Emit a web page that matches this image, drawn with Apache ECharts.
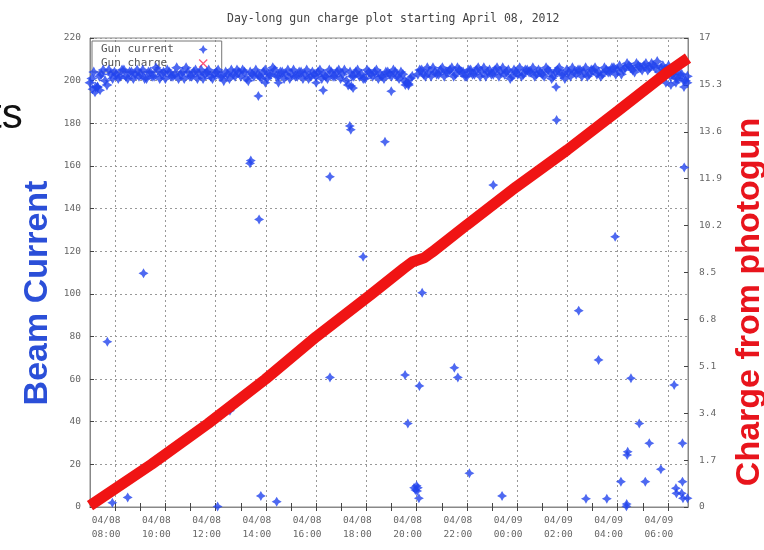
<!DOCTYPE html>
<html><head><meta charset="utf-8">
<script src="https://cdn.jsdelivr.net/npm/echarts@6/dist/echarts.min.js"></script>
<style>html,body{margin:0;padding:0;background:#fff}#c{width:764px;height:550px}</style>
</head><body><div id="c"></div>
<script>
const chartTitle = 'Day-long gun charge plot starting April 08, 2012';
const xTickHours = [8, 10, 12, 14, 16, 18, 20, 22, 24, 26, 28, 30];
const xTickLabels = ['04/08\n08:00', '04/08\n10:00', '04/08\n12:00', '04/08\n14:00', '04/08\n16:00', '04/08\n18:00',
  '04/08\n20:00', '04/08\n22:00', '04/09\n00:00', '04/09\n02:00', '04/09\n04:00', '04/09\n06:00'];
const xMinorHours = [8, 9, 10, 11, 12, 13, 14, 15, 16, 17, 18, 19, 20, 21, 22, 23, 24, 25, 26, 27, 28, 29, 30];

// Gun current, steady band, sampled every 0.15 h; four interleaved sample sets
const currentStep = 0.15;
const currentAStart = 7.0, currentA2Start = 7.075, currentBStart = 20.05, currentB2Start = 20.125;
const currentA = [199, 204, 197, 203, 200, 205, 201, 203, 202, 205,
  201, 204, 203, 202, 205, 201, 204, 202, 205, 203,
  201, 204, 202, 206, 203, 201, 204, 202, 205, 203,
  201, 204, 202, 203, 205, 202, 204, 201, 203, 205,
  202, 204, 200, 203, 205, 202, 204, 201, 203, 205,
  202, 204, 203, 201, 205, 202, 204, 203, 201, 204,
  202, 205, 203, 201, 204, 202, 205, 203, 200, 204,
  202, 205, 203, 201, 204, 202, 205, 203, 201, 204,
  202, 204, 201, 203, 199, 201];
const currentA2 = [201, 197, 202, 205, 198, 203, 204, 201, 205, 202,
  204, 201, 205, 203, 201, 204, 202, 206, 201, 204,
  205, 202, 203, 201, 204, 206, 202, 204, 201, 205,
  203, 205, 201, 204, 202, 200, 203, 205, 202, 204,
  205, 201, 204, 202, 203, 201, 205, 203, 206, 202,
  204, 201, 205, 203, 202, 204, 201, 205, 202, 203,
  204, 201, 202, 205, 202, 204, 201, 205, 198, 202,
  204, 202, 201, 205, 203, 204, 201, 202, 204, 203,
  205, 202, 204, 200, 198, 202];
const currentB = [203, 205, 202, 204, 206, 203, 205, 202, 204, 206,
  203, 205, 204, 202, 205, 203, 206, 204, 202, 205,
  203, 206, 204, 203, 205, 202, 204, 206, 203, 205,
  204, 202, 205, 203, 206, 204, 202, 205, 203, 201,
  204, 206, 203, 205, 204, 202, 205, 206, 204, 203,
  205, 204, 206, 205, 203, 206, 207, 205, 208, 206,
  207, 205, 208, 206, 204, 207, 205, 202, 204, 201,
  203, 200];
const currentB2 = [205, 203, 206, 202, 204, 203, 206, 204, 205, 202,
  206, 204, 202, 205, 203, 205, 202, 206, 204, 203,
  205, 202, 206, 204, 201, 205, 203, 202, 205, 204,
  206, 203, 204, 202, 205, 201, 204, 206, 203, 205,
  202, 204, 205, 202, 206, 203, 205, 203, 202, 206,
  204, 206, 203, 207, 205, 208, 206, 204, 207, 205,
  208, 206, 207, 209, 206, 205, 207, 203, 201, 203,
  200, 202];
// Gun current, dips and outliers (hour, value)
const currentExtraHours = [7.1, 7.2, 7.4, 7.3, 13.98, 14.5, 16.0, 16.28, 17.47, 17.4, 18.99, 19.55, 19.68, 25.55, 29.92, 30.12, 30.32, 30.64, 30.78,
  13.70, 17.34, 17.38, 18.74, 13.37, 13.40, 16.55, 13.73, 17.87, 9.13, 7.69, 12.57, 16.55, 8.5, 7.89, 12.08, 13.8, 14.43,
  20.22, 26.45, 27.24, 19.54, 20.11, 21.5, 21.64, 28.53, 30.25, 19.65, 28.86, 29.26, 30.58, 28.4, 28.38, 22.1, 29.72, 28.13, 29.1,
  19.9, 19.95, 20.0, 20.02, 20.05, 20.09, 23.4, 26.74, 27.57, 28.36, 28.35, 30.32, 30.58, 30.55, 30.6, 30.78, 30.34,
  25.57, 23.05, 27.9, 30.65];
const currentExtraValues = [196, 194.5, 195.5, 197, 199, 199, 199, 195.5, 196.5, 197.5, 195, 198, 198.5, 197, 199, 198, 199, 197, 199,
  192.8, 178.7, 177, 171.3, 161.2, 162.5, 154.9, 134.9, 117.4, 109.6, 77.5, 45.2, 60.8, 4.5, 2, 0.2, 5.2, 2.5,
  100.5, 92.1, 69, 61.9, 56.8, 65.3, 60.8, 60.4, 57.2, 39.2, 39.2, 29.9, 29.9, 25.9, 24.4, 15.8, 17.7, 11.9, 11.9,
  9, 8, 10, 7.5, 9, 4.1, 5.2, 3.9, 3.9, 1.4, 0.3, 8.8, 11.9, 6.4, 4.1, 4.1, 6.4,
  181.5, 151, 126.8, 159.3];

// Gun charge (right axis)
const chargeHours = [7.0, 9.45, 11.71, 13.98, 16.0, 18.15, 19.5, 19.82, 20.3, 20.62, 21.99, 23.96, 25.99, 28.0, 30.0, 30.8];
const chargeValues = [0.05, 1.55, 3.03, 4.63, 6.17, 7.68, 8.66, 8.88, 9.03, 9.24, 10.22, 11.6, 12.94, 14.35, 15.77, 16.27];

const starPath = 'path://M0,-5L1.8,-1.8L5,0L1.8,1.8L0,5L-1.8,1.8L-5,0L-1.8,-1.8Z';
const xPath = 'path://M-5,-4L-4,-5L0,-1L4,-5L5,-4L1,0L5,4L4,5L0,1L-4,5L-5,4L-1,0Z';

const currentData = [];
currentA.forEach((v, i) => currentData.push([currentAStart + i * currentStep, v]));
currentA2.forEach((v, i) => currentData.push([currentA2Start + i * currentStep, v]));
currentB.forEach((v, i) => currentData.push([currentBStart + i * currentStep, v]));
currentB2.forEach((v, i) => currentData.push([currentB2Start + i * currentStep, v]));
const bandCount = currentData.length;
currentExtraHours.forEach((h, i) => currentData.push([h, currentExtraValues[i]]));
const chargeData = chargeHours.map((h, i) => [h, chargeValues[i]]);

const mono = '"DejaVu Sans Mono", "Liberation Mono", monospace';
const chart = echarts.init(document.getElementById('c'));
chart.setOption({
  animation: false,
  backgroundColor: '#fff',
  title: { text: chartTitle, left: 222, top: 8, textStyle: { fontFamily: mono, fontSize: 11.5, fontWeight: 'normal', color: '#444' } },
  grid: { left: 90, right: 76, top: 38, bottom: 43, show: true, borderColor: '#888', borderWidth: 1, backgroundColor: 'transparent' },
  legend: {
    z: 1, orient: 'vertical', left: 92, top: 41, align: 'right', itemGap: 3, itemWidth: 9, itemHeight: 9,
    padding: [3, 14, 3, 9], borderColor: '#777', borderWidth: 1,
    formatter: name => name.padEnd(14, ' '),
    textStyle: { fontFamily: mono, fontSize: 11, color: '#555' },
    data: [{ name: 'Gun current', icon: starPath }, { name: 'Gun charge', icon: xPath, itemStyle: { color: '#ff5577' } }]
  },
  xAxis: [{
    type: 'value', min: 7, max: 30.8, position: 'bottom',
    axisLine: { show: true, lineStyle: { color: '#888' } },
    axisTick: { show: true, inside: true, length: 4, customValues: xMinorHours, lineStyle: { color: '#444' } },
    axisLabel: { customValues: xTickHours, formatter: v => xTickLabels[xTickHours.indexOf(v)] || '',
      fontFamily: mono, fontSize: 9.5, color: '#666', lineHeight: 14, margin: 7, padding: [0, 18, 0, 0] },
    splitLine: { show: false }
  }, {
    type: 'value', min: 7, max: 30.8, position: 'top',
    axisLine: { show: true, lineStyle: { color: '#888' } },
    axisTick: { show: true, inside: true, length: 4, customValues: xMinorHours, lineStyle: { color: '#444' } },
    axisLabel: { show: false }, splitLine: { show: false }
  }],
  yAxis: [{
    type: 'value', min: 0, max: 220, interval: 20, position: 'left',
    axisLine: { show: true, lineStyle: { color: '#888' } },
    axisTick: { show: true, inside: true, length: 4, lineStyle: { color: '#444' } },
    axisLabel: { fontFamily: mono, fontSize: 9.5, color: '#666', margin: 9 },
    splitLine: { show: true, lineStyle: { color: '#999', type: [2, 3], width: 1 } }
  }, {
    type: 'value', min: 0, max: 17, interval: 1.7, position: 'right',
    axisLine: { show: true, lineStyle: { color: '#888' } },
    axisTick: { show: true, inside: true, length: 4, lineStyle: { color: '#444' } },
    axisLabel: { fontFamily: mono, fontSize: 9.5, color: '#666', margin: 11, formatter: v => String(Math.round(v * 10) / 10) },
    splitLine: { show: false }
  }],
  graphic: [
    { type: 'text', x: 38, y: 293, rotation: Math.PI / 2, style: { text: 'Beam Current', fontFamily: '"Liberation Sans", Arial, sans-serif', fontWeight: 'bold', fontSize: 34, fill: '#2b4fd8', align: 'center', verticalAlign: 'middle' } },
    { type: 'text', x: 750, y: 302, rotation: Math.PI / 2, style: { text: 'Charge from photogun', fontFamily: '"Liberation Sans", Arial, sans-serif', fontWeight: 'bold', fontSize: 34, fill: '#e8141c', align: 'center', verticalAlign: 'middle' } },
    { type: 'text', x: -10, y: 116, style: { text: 'ts', fontFamily: '"Liberation Sans", Arial, sans-serif', fontSize: 42, fill: '#111', align: 'left', verticalAlign: 'middle' } }
  ],
  series: [{
    name: 'vgrid', type: 'line', data: [], z: 0, silent: true,
    markLine: { silent: true, z: 0, symbol: ['none', 'none'], label: { show: false },
      lineStyle: { color: '#999', type: [2, 3], width: 1 }, data: xTickHours.map(h => ({ xAxis: h })) }
  }, {
    name: 'Gun current', type: 'scatter', xAxisIndex: 0, yAxisIndex: 0, z: 2,
    symbol: starPath, symbolSize: (val, p) => (p.dataIndex < bandCount ? 11 : 10),
    itemStyle: { color: '#2244ee' }, data: currentData
  }, {
    name: 'Gun charge', type: 'line', xAxisIndex: 0, yAxisIndex: 1, z: 3, clip: false,
    symbol: 'none', lineStyle: { color: '#f01414', width: 11 }, itemStyle: { color: '#f01414' }, data: chargeData
  }]
});
</script></body></html>
